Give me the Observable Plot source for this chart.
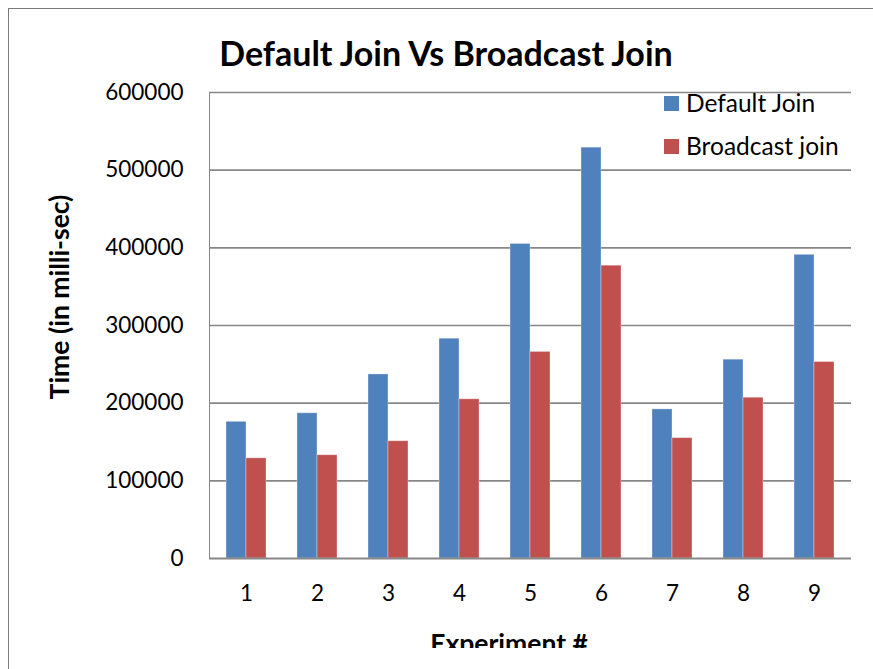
<!DOCTYPE html>
<html>
<head>
<meta charset="utf-8">
<script src="https://cdn.jsdelivr.net/npm/d3@7"></script>
<script src="https://cdn.jsdelivr.net/npm/@observablehq/plot@0.6"></script>
<style>
  html, body { margin: 0; padding: 0; background: #fff; }
  #page { position: relative; width: 873px; height: 669px; overflow: hidden; background: #fff; font-family: "Lato", sans-serif; }
  #border { position: absolute; left: 8px; top: 8px; right: -10px; bottom: -10px; border-top: 1px solid #7a7a7a; border-left: 1px solid #7a7a7a; }
  #clip { position: absolute; left: 0; top: 0; width: 873px; height: 648px; overflow: hidden; }
  #chart { position: absolute; left: 0; top: 0; }
  #chart svg text { fill: #000; }
  .title { position: absolute; white-space: nowrap; font-weight: bold; color: #000; }
  #legend { position: absolute; left: 664px; top: 85px; }
  .legend-item { position: relative; height: 43px; white-space: nowrap; font-size: 24.5px; color: #000; }
  .legend-swatch { position: absolute; left: 0; top: 11px; width: 15px; height: 15px; }
  .legend-label { position: absolute; left: 22px; top: 3px; line-height: 30px; }
</style>
</head>
<body>
<div id="page">
  <div id="border"></div>
  <div id="clip">
    <div id="chart"></div>
    <div class="title" id="main-title">Default Join Vs Broadcast Join</div>
    <div class="title" id="y-title">Time (in milli-sec)</div>
    <div class="title" id="x-title">Experiment #</div>
    <div id="legend"></div>
  </div>
</div>
<script>
// Run times per experiment, in milliseconds
const experiments = ["1", "2", "3", "4", "5", "6", "7", "8", "9"];
const defaultJoin = [176000, 187000, 237000, 283000, 405000, 529000, 192000, 256000, 391000];
const broadcastJoin = [129000, 133000, 151000, 205000, 266000, 377000, 155000, 207000, 253000];
const seriesNames = ["Default Join", "Broadcast join"];
const seriesColors = ["#4F81BD", "#C0504D"];
const yTicks = [0, 100000, 200000, 300000, 400000, 500000, 600000];

const rows = experiments.map((e, i) => ({experiment: e, defaultJoin: defaultJoin[i], broadcastJoin: broadcastJoin[i]}));

const width = 873, height = 648;
const marginLeft = 209, marginRight = 22, marginTop = 92, marginBottom = 90;
const paddingInner = 0.44, paddingOuter = 0.22;
// each experiment's band holds two side-by-side bars
const step = (width - marginLeft - marginRight) / (experiments.length - paddingInner + 2 * paddingOuter);
const half = step * (1 - paddingInner) / 2;
const gridColor = "#878787";

const chart = Plot.plot({
  width, height, marginLeft, marginRight, marginTop, marginBottom,
  style: {fontFamily: "Lato, sans-serif", fontSize: "22.5px", color: gridColor, background: "transparent", overflow: "visible"},
  x: {domain: experiments, paddingInner, paddingOuter, label: null, tickSize: 0, tickPadding: 27},
  y: {domain: [0, 600000], ticks: yTicks, tickFormat: d => String(d), tickSize: 0, tickPadding: 26, label: null, line: true},
  marks: [
    Plot.ruleY(yTicks.filter(t => t > 0), {stroke: gridColor, strokeWidth: 1.7}),
    Plot.barY(rows, {x: "experiment", y: "defaultJoin", fill: seriesColors[0], insetRight: half, stroke: "#fff", strokeOpacity: 0.35, strokeWidth: 1}),
    Plot.barY(rows, {x: "experiment", y: "broadcastJoin", fill: seriesColors[1], insetLeft: half, stroke: "#fff", strokeOpacity: 0.35, strokeWidth: 1}),
    Plot.ruleY([0], {stroke: gridColor, strokeWidth: 2})
  ]
});
document.getElementById("chart").appendChild(chart);

// titles
const mainTitle = document.getElementById("main-title");
Object.assign(mainTitle.style, {fontSize: "34px", left: "446px", top: "33px", transform: "translateX(-50%)", lineHeight: "40px"});
const yTitle = document.getElementById("y-title");
Object.assign(yTitle.style, {fontSize: "26.5px", left: "59px", top: "297px", transform: "translate(-50%, -50%) rotate(-90deg)", lineHeight: "32px"});
const xTitle = document.getElementById("x-title");
Object.assign(xTitle.style, {fontSize: "26.5px", left: "509px", top: "627px", transform: "translateX(-50%)", lineHeight: "32px"});

// legend
const legend = d3.select("#legend");
seriesNames.forEach((name, i) => {
  const item = legend.append("div").attr("class", "legend-item");
  item.append("div").attr("class", "legend-swatch").style("background", seriesColors[i]);
  item.append("div").attr("class", "legend-label").text(name);
});
</script>
</body>
</html>
